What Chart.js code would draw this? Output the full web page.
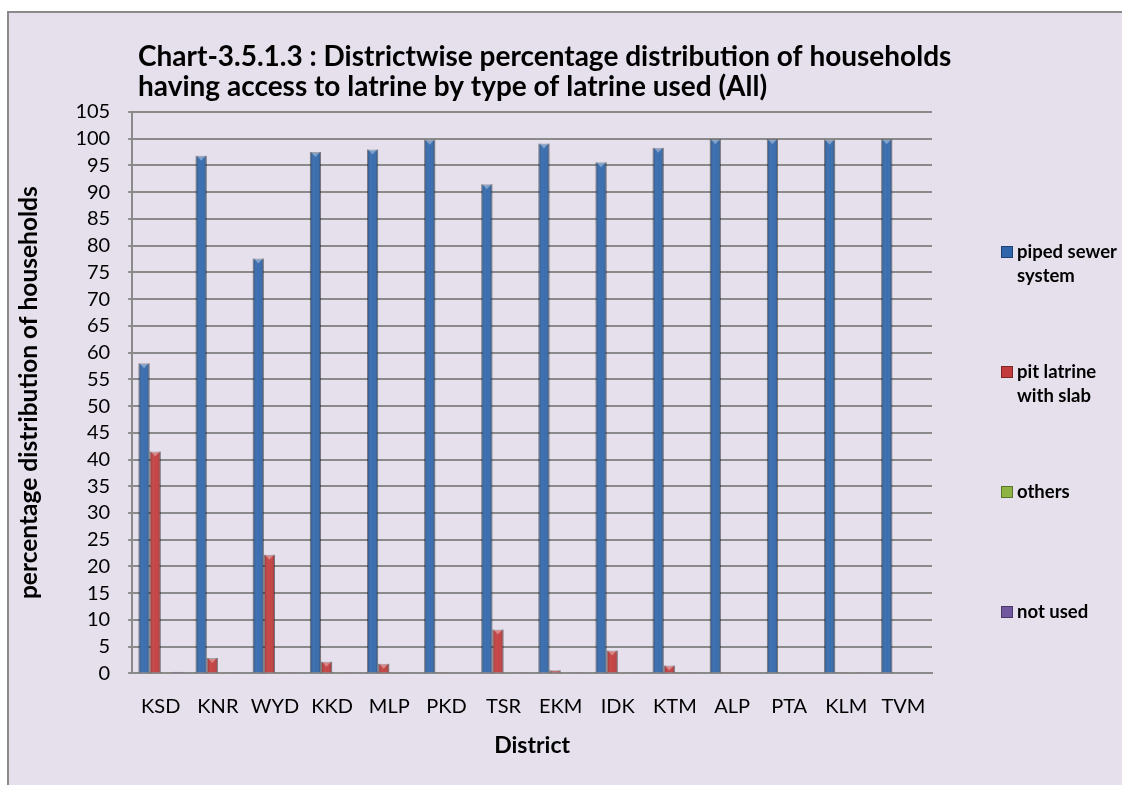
<!DOCTYPE html>
<html>
<head>
<meta charset="utf-8">
<script src="https://cdn.jsdelivr.net/npm/chart.js@4"></script>
<style>
  html, body { margin: 0; padding: 0; background: #ffffff; }
  #wrap { position: relative; width: 1122px; height: 785px; }
  canvas { display: block; }
</style>
</head>
<body>
<div id="wrap"><canvas id="grafico" width="1122" height="785"></canvas></div>
<script>
// datos
const districts = ['KSD', 'KNR', 'WYD', 'KKD', 'MLP', 'PKD', 'TSR', 'EKM', 'IDK', 'KTM', 'ALP', 'PTA', 'KLM', 'TVM'];
const pipedSewer = [58.0, 96.8, 77.6, 97.5, 98.0, 99.8, 91.5, 99.1, 95.6, 98.3, 99.9, 99.9, 99.8, 99.9];
const pitLatrine = [41.5, 2.9, 22.2, 2.2, 1.8, 0.1, 8.2, 0.6, 4.3, 1.5, 0.1, 0.0, 0.1, 0.0];
const others = [0.1, 0.1, 0.1, 0.1, 0.1, 0.0, 0.1, 0.1, 0.1, 0.1, 0.0, 0.0, 0.1, 0.0];
const notUsed = [0.3, 0.1, 0.1, 0.1, 0.1, 0.0, 0.1, 0.1, 0.1, 0.1, 0.0, 0.0, 0.1, 0.0];
const seriesNames = [['piped sewer', 'system'], ['pit latrine', 'with slab'], ['others'], ['not used']];
const seriesColors = ['#2f66ab', '#c23a3b', '#8db443', '#7156a0'];

const FONT = 'Lato, "Open Sans", sans-serif';

// fondo y borde del area del grafico
const marco = {
  id: 'marco',
  beforeDraw(chart) {
    const c = chart.ctx;
    c.save();
    c.fillStyle = '#e5e0ec';
    c.fillRect(8, 12, 1130, 800);
    c.strokeStyle = '#8a8a8a';
    c.lineWidth = 2;
    c.strokeRect(8, 12, 1130, 800);
    // titulo
    c.fillStyle = '#000';
    c.font = 'bold 28px ' + FONT;
    c.textBaseline = 'middle';
    c.fillText('Chart-3.5.1.3 : Districtwise percentage distribution of households', 138, 57);
    c.fillText('having access to latrine by type of latrine used (All)', 138, 87);
    c.restore();
  }
};

// sombreado tipo cilindro sobre cada barra
const sombreado = {
  id: 'sombreado',
  afterDatasetsDraw(chart) {
    const c = chart.ctx;
    c.save();
    chart.data.datasets.forEach((ds, i) => {
      chart.getDatasetMeta(i).data.forEach(el => {
        const p = el.getProps(['x', 'y', 'base', 'width'], true);
        const h = p.base - p.y;
        if (h < 1) return;
        const x0 = p.x - p.width / 2;
        const g = c.createLinearGradient(x0, 0, x0 + p.width, 0);
        g.addColorStop(0, 'rgba(0,0,0,0.28)');
        g.addColorStop(0.4, 'rgba(255,255,255,0.08)');
        g.addColorStop(0.6, 'rgba(255,255,255,0.05)');
        g.addColorStop(1, 'rgba(0,0,0,0.32)');
        c.fillStyle = g;
        c.fillRect(x0, p.y, p.width, h);
        // pequeno triangulo claro arriba
        if (h > 6) {
          c.fillStyle = 'rgba(255,255,255,0.35)';
          c.beginPath();
          c.moveTo(x0 + 2, p.y + 1);
          c.lineTo(x0 + p.width - 2, p.y + 1);
          c.lineTo(p.x, p.y + 5);
          c.closePath();
          c.fill();
        }
      });
    });
    c.restore();
  }
};

// leyenda vertical a la derecha
const leyenda = {
  id: 'leyenda',
  afterDraw(chart) {
    const c = chart.ctx;
    c.save();
    c.font = 'bold 18.5px ' + FONT;
    c.textBaseline = 'middle';
    const ys = [252, 372, 492, 612];
    chart.data.datasets.forEach((ds, i) => {
      const y = ys[i];
      c.fillStyle = ds.backgroundColor;
      c.fillRect(1001, y - 6, 12, 12);
      c.strokeStyle = 'rgba(0,0,0,0.35)';
      c.lineWidth = 1;
      c.strokeRect(1001.5, y - 5.5, 11, 11);
      c.fillStyle = '#000';
      seriesNames[i].forEach((t, k) => c.fillText(t, 1017, y + k * 24));
    });
    c.restore();
  }
};

new Chart(document.getElementById('grafico'), {
  type: 'bar',
  data: {
    labels: districts,
    datasets: [
      { label: 'piped sewer system', data: pipedSewer, backgroundColor: seriesColors[0] },
      { label: 'pit latrine with slab', data: pitLatrine, backgroundColor: seriesColors[1] },
      { label: 'others', data: others, backgroundColor: seriesColors[2] },
      { label: 'not used', data: notUsed, backgroundColor: seriesColors[3] }
    ].map(d => Object.assign(d, {
      borderColor: 'rgba(0,0,0,0.3)',
      borderWidth: 1,
      barPercentage: 1.0,
      categoryPercentage: 0.78
    }))
  },
  options: {
    responsive: false,
    animation: false,
    layout: { padding: { left: 10, top: 112, right: 190, bottom: 22 } },
    plugins: { legend: { display: false }, tooltip: { enabled: false } },
    scales: {
      x: {
        grid: { display: false },
        border: { color: '#8a8a8a', width: 2 },
        ticks: { color: '#000', font: { family: FONT, size: 20 }, padding: 13 },
        title: { display: true, text: 'District', color: '#000', font: { family: FONT, size: 23, weight: 'bold' }, padding: { top: 0 } }
      },
      y: {
        min: 0,
        max: 105,
        ticks: { stepSize: 5, autoSkip: false, color: '#000', font: { family: FONT, size: 20 }, padding: 18 },
        grid: { color: '#8a8a8a', lineWidth: 2, tickLength: 4 },
        border: { color: '#8a8a8a', width: 2 },
        title: { display: true, text: 'percentage distribution of households', color: '#000', font: { family: FONT, size: 24.5, weight: 'bold' }, padding: { bottom: 14 } }
      }
    }
  },
  plugins: [marco, sombreado, leyenda]
});
</script>
</body>
</html>
